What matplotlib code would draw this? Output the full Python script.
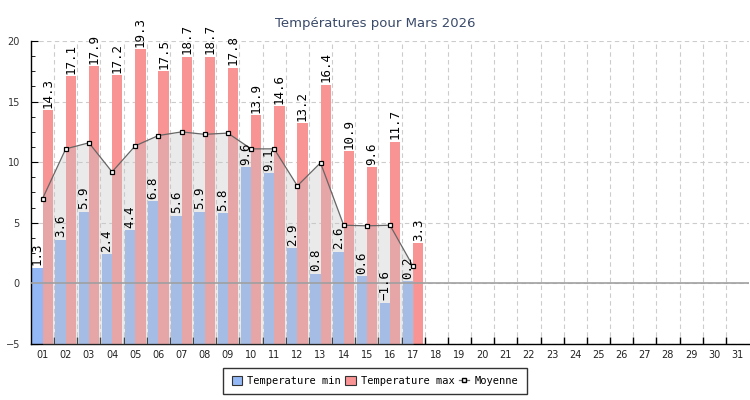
import numpy as np
import matplotlib.pyplot as plt
from matplotlib.lines import Line2D
from matplotlib.patches import Patch

# Data
days = ['%02d' % d for d in range(1, 32)]
temp_min = [1.3, 3.6, 5.9, 2.4, 4.4, 6.8, 5.6, 5.9, 5.8, 9.6, 9.1, 2.9, 0.8, 2.6, 0.6, -1.6, 0.2]
temp_max = [14.3, 17.1, 17.9, 17.2, 19.3, 17.5, 18.7, 18.7, 17.8, 13.9, 14.6, 13.2, 16.4, 10.9, 9.6, 11.7, 3.3]
moyenne = [7.0, 11.1, 11.6, 9.2, 11.35, 12.2, 12.5, 12.3, 12.4, 11.1, 11.1, 8.05, 9.95, 4.8, 4.75, 4.8, 1.4]

ymin, ymax = -5, 20
col_min = '#94b8f6'
col_max = '#f99494'

fig = plt.figure(figsize=(7.5, 4), dpi=100)
ax = fig.add_axes([31 / 750, 1 - 344 / 400, 718 / 750, 303 / 400])

x = np.arange(len(temp_min))
w = 0.445

# bars start at the bottom of the axis (jpgraph style)
ax.bar(x - w / 2, np.array(temp_min) - ymin, w, bottom=ymin, color=col_min, zorder=2)
ax.bar(x + w / 2, np.array(temp_max) - ymin, w, bottom=ymin, color=col_max, zorder=2)

# shaded area under the average line
ax.fill_between(x, moyenne, ymin, color='#c5c5c8', alpha=0.35, lw=0, zorder=3)
ax.axhline(0, color='#a0a0a0', lw=1.2, zorder=4)
ax.plot(x, moyenne, color='#666666', lw=0.9, marker='s', ms=3.5,
        mfc='white', mec='black', mew=0.9, zorder=5)

# value labels
for i in range(len(temp_min)):
    for xv, v in ((x[i] - w / 2, temp_min[i]), (x[i] + w / 2, temp_max[i])):
        txt = ('%.1f' % v).replace('-', '\u2212')
        ax.text(xv, v + 0.2, txt, rotation=90, ha='center', va='bottom',
                fontsize=9, family='DejaVu Sans Mono', color='black', zorder=6)

ax.set_xlim(-0.5, len(days) - 0.5)
ax.set_ylim(ymin, ymax)

# x: ticks on category boundaries, labels centered
ax.set_xticks(np.arange(len(days) - 1) + 0.5)
ax.set_xticklabels([])
ax.set_xticks(np.arange(len(days)), minor=True)
ax.set_xticklabels(days, minor=True)
ax.tick_params(axis='x', which='major', direction='in', length=5, width=1)
ax.tick_params(axis='x', which='minor', length=0, labelsize=7, pad=4, colors='#222222')

ax.set_yticks([-5, 0, 5, 10, 15, 20])
ax.set_yticks(np.arange(-5, 20.01, 1.25), minor=True)
ax.tick_params(axis='y', which='major', direction='in', length=5, labelsize=7, pad=8, colors='#333333')
ax.tick_params(axis='y', which='minor', direction='in', length=3)
ax.tick_params(axis='y', which='both', color='black')

ax.grid(True, axis='y', which='major', ls=(0, (4, 3)), color='#cccccc', lw=0.8, zorder=0)
ax.grid(True, axis='x', which='major', ls=(0, (4, 3)), color='#cccccc', lw=0.8, zorder=0)
ax.set_axisbelow(True)

for s in ('top', 'right'):
    ax.spines[s].set_visible(False)
ax.spines['left'].set_linewidth(1)
ax.spines['bottom'].set_linewidth(1)

fig.text(0.5, 1 - 23 / 400, 'Températures pour Mars 2026', ha='center', va='center',
         fontsize=9.5, color='#3a4a6a', family='DejaVu Sans')

handles = [Patch(facecolor=col_min, edgecolor='#333333', lw=0.8),
           Patch(facecolor=col_max, edgecolor='#333333', lw=0.8),
           Line2D([0], [0], color='#666666', lw=0.9, marker='s', ms=3,
                  mfc='white', mec='black')]
leg = fig.legend(handles, ['Temperature min', 'Temperature max', 'Moyenne'],
                 loc='center', bbox_to_anchor=(375 / 750, 1 - 381 / 400), ncol=3,
                 prop={'family': 'DejaVu Sans Mono', 'size': 7.5},
                 fancybox=False, edgecolor='black', handlelength=1.0, handleheight=1.0,
                 handletextpad=0.5, columnspacing=0.4, borderpad=0.8)
leg.get_frame().set_linewidth(1)

fig.savefig('out.png', dpi=100)
